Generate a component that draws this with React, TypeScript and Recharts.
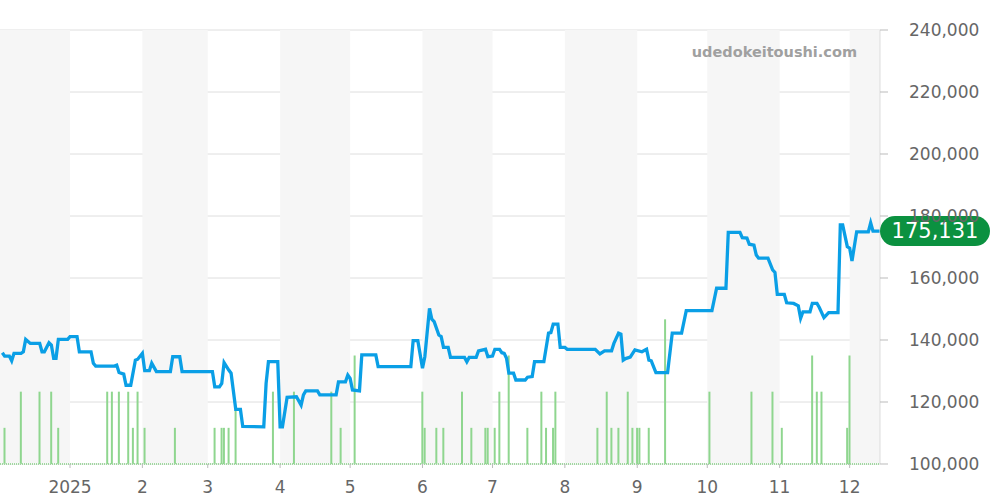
import React from "react";
import {
  ComposedChart,
  Line,
  Bar,
  XAxis,
  YAxis,
  CartesianGrid,
  ReferenceArea,
  ReferenceLine,
  ReferenceDot,
} from "recharts";

// x values are days counted from 2024-12-02
const priceDays = [
  1, 2, 4, 5, 6, 9, 10, 11, 13, 17, 18, 19, 21, 22, 23, 24, 25, 29, 30, 33, 34, 39, 40, 41, 49, 50,
  51, 53, 54, 56, 58, 59, 61, 62, 64, 65, 67, 73, 74, 77, 78, 91, 92, 94, 95, 96, 98, 99, 101, 103,
  104, 113, 114, 115, 119, 120, 121, 123, 127, 129, 130, 131, 136, 137, 144, 145, 148, 149, 150, 151,
  154, 155, 161, 162, 176, 177, 179, 181, 182, 184, 185, 186, 188, 189, 190, 192, 193, 199, 200, 201,
  204, 205, 208, 209, 211, 212, 214, 215, 216, 217, 218, 220, 221, 225, 226, 228, 229, 233, 235, 236,
  237, 239, 240, 242, 243, 255, 257, 259, 262, 263, 265, 266, 267, 268, 270, 272, 275, 277, 278, 279,
  281, 286, 288, 292, 294, 305, 307, 311, 312, 317, 318, 320, 321, 323, 324, 325, 329, 331, 332, 333,
  336, 337, 340, 342, 343, 344, 347, 348, 350, 351, 353, 355, 359, 360, 361, 363, 364, 365, 367, 372,
  373, 374, 377,
];
const priceValues = [
  135900, 134800, 134800, 133300, 135700, 135700, 136200, 140200, 138900, 138900, 136200, 136200,
  139100, 138400, 134100, 134100, 140200, 140200, 141100, 141100, 136200, 136200, 132500, 131600,
  131600, 131900, 129500, 129000, 125400, 125400, 133500, 133800, 135700, 130100, 130100, 132500,
  129800, 129800, 134600, 134600, 129800, 129800, 124900, 124900, 126000, 132700, 130300, 129300,
  117600, 117600, 112100, 112000, 126000, 133000, 133000, 112000, 112000, 121500, 121700, 119000,
  122300, 123600, 123600, 122300, 122300, 126500, 126500, 128700, 127600, 123900, 123600, 135200,
  135200, 131400, 131400, 139800, 139800, 130900, 134600, 150200, 146700, 145900, 141600, 141100,
  137600, 137600, 134400, 134400, 133000, 134400, 134400, 136500, 137000, 134600, 134800, 137000,
  137000, 135900, 135700, 134100, 129300, 129300, 127100, 127100, 128000, 128200, 133000, 133000,
  142200, 142400, 145100, 145100, 137600, 137600, 137000, 137000, 135500, 136500, 136500, 138900,
  142200, 141900, 133500, 134000, 134500, 136800, 136200, 137000, 133500, 133300, 129500, 129500,
  142200, 142200, 149500, 149500, 156700, 156700, 174700, 174700, 173000, 172900, 170900, 170600,
  167400, 166400, 166400, 162600, 161800, 154700, 154700, 152000, 151800, 151000, 147000, 149100,
  149100, 151800, 151800, 150500, 147200, 148800, 148800, 177100, 177100, 170100, 169600, 165500,
  174900, 174900, 177800, 175100, 175131,
];

const volumeDays = [
  2, 9, 17, 22, 25, 46, 48, 51, 55, 57, 59, 62, 75, 92, 95, 96, 98, 101, 117, 126, 142, 146, 152,
  181, 182, 187, 190, 198, 202, 208, 209, 212, 214, 218, 226, 232, 234, 237, 238, 256, 260, 262, 265,
  269, 271, 273, 274, 278, 285, 304, 322, 331, 335, 348, 350, 352, 363, 364,
];
const volumeValues = [
  1, 2, 2, 2, 1, 2, 2, 2, 2, 1, 2, 1, 1, 1, 1, 1, 1, 1.5, 2, 2, 2, 1, 3,
  2, 1, 1, 1, 2, 1, 1, 1, 1, 2, 3, 1, 2, 1, 1, 2, 1, 2, 1, 1,
  2, 1, 1, 1, 1, 4, 2, 2, 2, 1, 3, 2, 2, 1, 3,
];

const monthTicks = [30, 61, 89, 120, 150, 181, 211, 242, 273, 303, 334, 364];
const monthLabels = ["2025", "2", "3", "4", "5", "6", "7", "8", "9", "10", "11", "12"];
const shadedMonths = [
  [0, 30],
  [61, 89],
  [120, 150],
  [181, 211],
  [242, 273],
  [303, 334],
  [364, 377],
];
const priceTicks = [100000, 120000, 140000, 160000, 180000, 200000, 220000, 240000];

const lastDay = priceDays[priceDays.length - 1];
const lastPrice = priceValues[priceValues.length - 1];

type Row = { day: number; price?: number; volume?: number };

const buildRows = (): Row[] => {
  const map = new Map<number, Row>();
  priceDays.forEach((d, i) => {
    map.set(d, { ...(map.get(d) || { day: d }), price: priceValues[i] });
  });
  volumeDays.forEach((d, i) => {
    map.set(d, { ...(map.get(d) || { day: d }), volume: volumeValues[i] });
  });
  return Array.from(map.values()).sort((a, b) => a.day - b.day);
};

const rows = buildRows();
const fmt = (v: number) => v.toLocaleString("en-US");

const PriceBadge = (props: any) => {
  const { cx, cy } = props;
  return (
    <g>
      <rect x={cx} y={cy - 15} width={110} height={30} rx={15} fill="#0b9140" />
      <text
        x={cx + 55}
        y={cy + 1}
        textAnchor="middle"
        dominantBaseline="middle"
        fill="#fff"
        fontSize={21}
      >
        {fmt(lastPrice)}
      </text>
    </g>
  );
};

export default function App() {
  return (
    <div
      style={{
        position: "absolute",
        left: 0,
        top: 0,
        width: 1000,
        height: 500,
        fontFamily: "DejaVu Sans",
      }}
    >
      <ComposedChart
        width={1000}
        height={500}
        data={rows}
        margin={{ top: 30, right: 0, bottom: 0, left: 0 }}
      >
        {shadedMonths.map(([a, b]) => (
          <ReferenceArea
            key={a}
            x1={a}
            x2={b}
            yAxisId="price"
            fill="#f6f6f6"
            fillOpacity={1}
            stroke="none"
            ifOverflow="visible"
          />
        ))}
        <CartesianGrid vertical={false} stroke="#dedede" yAxisId="price" />
        <XAxis
          dataKey="day"
          type="number"
          domain={[0, 377]}
          ticks={monthTicks}
          tickFormatter={(v) => monthLabels[monthTicks.indexOf(v)]}
          axisLine={false}
          tickSize={4}
          tickMargin={13}
          tickLine={{ stroke: "#bbbbbb" }}
          tick={{ fill: "#666666", fontSize: 17 }}
          height={36}
          interval={0}
        />
        <YAxis
          yAxisId="price"
          orientation="right"
          width={120}
          domain={[100000, 240000]}
          ticks={priceTicks}
          tickFormatter={fmt}
          axisLine={{ stroke: "#dddddd" }}
          tickLine={{ stroke: "#bbbbbb" }}
          tickSize={8}
          tickMargin={21}
          tick={{ fill: "#666666", fontSize: 17, textAnchor: "start" }}
          allowDataOverflow
        />
        <YAxis yAxisId="vol" hide domain={[0, 12]} />
        <ReferenceLine
          yAxisId="vol"
          y={0}
          stroke="#9fd99f"
          strokeDasharray="1 1"
          strokeWidth={2}
        />
        <Bar
          yAxisId="vol"
          dataKey="volume"
          fill="#8fd68f"
          barSize={2}
          isAnimationActive={false}
        />
        <Line
          yAxisId="price"
          dataKey="price"
          type="linear"
          stroke="#0a9fe6"
          strokeWidth={3.3}
          dot={false}
          connectNulls
          isAnimationActive={false}
        />
        <ReferenceDot
          yAxisId="price"
          x={lastDay}
          y={lastPrice}
          ifOverflow="visible"
          shape={PriceBadge}
        />
      </ComposedChart>
      <div
        style={{
          position: "absolute",
          right: 143,
          top: 44,
          color: "#a0a0a0",
          fontSize: 14.5,
          fontWeight: "bold",
          pointerEvents: "none",
        }}
      >
        udedokeitoushi.com
      </div>
    </div>
  );
}
